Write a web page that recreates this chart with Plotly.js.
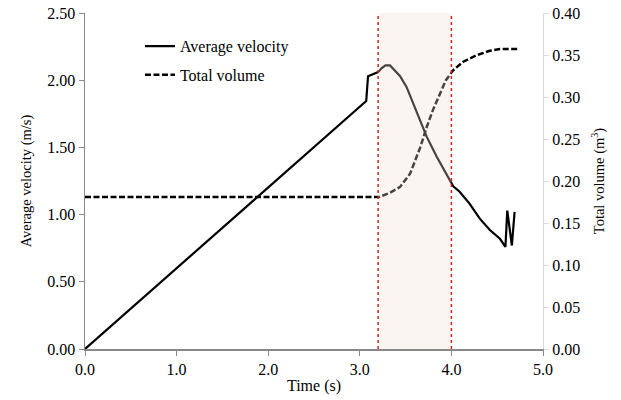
<!DOCTYPE html>
<html>
<head>
<meta charset="utf-8">
<script src="https://cdn.plot.ly/plotly-3.0.1.min.js"></script>
<style>html,body{margin:0;padding:0;background:#fff;}</style>
</head>
<body>
<div id="chart" style="width:621px;height:400px;"></div>
<script>
// Average velocity (m/s) vs time (s)
const velTime = [0, 3.07, 3.09, 3.13, 3.20, 3.24, 3.28, 3.33, 3.44, 3.51, 3.58, 3.73, 3.84, 4.02, 4.09, 4.20, 4.31, 4.42, 4.53, 4.59, 4.61, 4.66, 4.69];
const velocity = [0, 1.845, 2.03, 2.04, 2.06, 2.09, 2.11, 2.11, 2.03, 1.95, 1.83, 1.58, 1.43, 1.21, 1.17, 1.08, 0.97, 0.885, 0.82, 0.76, 1.03, 0.77, 1.02];
// Total volume (m^3) vs time (s)
const volTime = [0, 3.21, 3.33, 3.44, 3.55, 3.66, 3.73, 3.80, 3.88, 3.94, 4.02, 4.13, 4.28, 4.42, 4.53, 4.72];
const volume = [0.181, 0.181, 0.186, 0.193, 0.209, 0.240, 0.264, 0.285, 0.305, 0.320, 0.332, 0.342, 0.350, 0.355, 0.357, 0.357];
const xTicks = [0, 1, 2, 3, 4, 5];
const xTickLabels = ['0.0', '1.0', '2.0', '3.0', '4.0', '5.0'];
const bandStart = 3.2, bandEnd = 4.0;

const fam = 'Liberation Serif, Times New Roman, serif';
const tickFont = {family: fam, size: 16, color: '#000'};
const xTitleFont = {family: fam, size: 16, color: '#000'};
const yTitleFont = {family: fam, size: 14.5, color: '#000'};
const legendFont = {family: fam, size: 16, color: '#000'};

const traces = [
  {x: velTime, y: velocity, name: 'Average velocity', type: 'scatter', mode: 'lines',
   legendgroup: 'a', line: {color: '#000', width: 2.2}},
  {x: volTime, y: volume, name: 'Total volume', type: 'scatter', mode: 'lines', yaxis: 'y2',
   legendgroup: 'b', line: {color: '#000', width: 2.5, dash: '6px,2.5px'}}
];

const layout = {
  width: 621, height: 400,
  margin: {l: 85, r: 78, t: 13, b: 51},
  paper_bgcolor: '#fff', plot_bgcolor: '#fff',
  font: tickFont,
  showlegend: true,
  legend: {x: 0.12, y: 0.952, xanchor: 'left', yanchor: 'top', bgcolor: 'rgba(0,0,0,0)',
           font: legendFont, traceorder: 'grouped', tracegroupgap: 5},
  xaxis: {
    range: [0, 5], tickvals: xTicks, ticktext: xTickLabels,
    showgrid: false, zeroline: false, showline: true, linecolor: '#898989', linewidth: 1.5,
    ticks: 'outside', ticklen: 5, tickcolor: '#898989', tickfont: tickFont,
    title: {text: 'Time (s)', font: xTitleFont, standoff: 3}
  },
  yaxis: {
    range: [0, 2.5], dtick: 0.5, tickformat: '.2f',
    showgrid: false, zeroline: false, showline: true, linecolor: '#898989', linewidth: 1.5,
    ticks: 'outside', ticklen: 5, tickcolor: '#898989', tickfont: tickFont,
    title: {text: 'Average velocity (m/s)', font: yTitleFont, standoff: 12}
  },
  yaxis2: {
    range: [0, 0.4], dtick: 0.05, tickformat: '.2f', overlaying: 'y', side: 'right',
    showgrid: false, zeroline: false, showline: true, linecolor: '#d9d9d9', linewidth: 1,
    ticks: 'outside', ticklen: 5, tickcolor: '#d9d9d9', tickfont: tickFont,
    title: {text: 'Total volume (m<sup>3</sup>)', font: yTitleFont, standoff: 14}
  },
  shapes: [
    {type: 'rect', xref: 'x', yref: 'paper', x0: bandStart, x1: bandEnd, y0: 0, y1: 1,
     fillcolor: 'rgba(238,222,205,0.3)', line: {width: 0}, layer: 'above'},
    {type: 'line', xref: 'x', yref: 'paper', x0: bandStart, x1: bandStart, y0: 0, y1: 1,
     line: {color: '#e02020', width: 1.5, dash: 'dot'}, layer: 'above'},
    {type: 'line', xref: 'x', yref: 'paper', x0: bandEnd, x1: bandEnd, y0: 0, y1: 1,
     line: {color: '#e02020', width: 1.5, dash: 'dot'}, layer: 'above'}
  ]
};

Plotly.newPlot('chart', traces, layout, {displayModeBar: false, staticPlot: true});
</script>
</body>
</html>
